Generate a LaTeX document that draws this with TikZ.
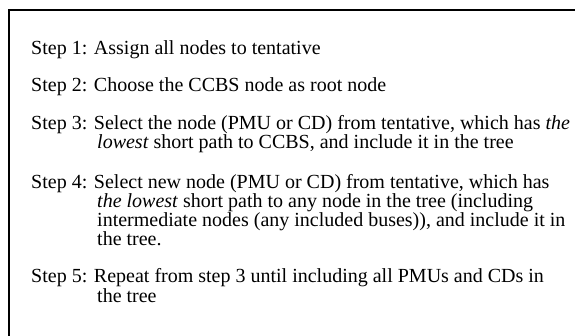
\documentclass[tikz,border=0pt]{standalone}
\usepackage{fontspec}
\setmainfont{Liberation Serif}
\begin{document}
\begin{tikzpicture}[x=1pt,y=-1pt,
  steptext/.style={anchor=base west,inner sep=0pt,font=\fontsize{20}{22}\selectfont}]
\useasboundingbox (0,0) rectangle (575,336);
\coordinate (bl) at (9,337);
\coordinate (tl) at (9,10);
\coordinate (tr) at (576,10);
\draw[line width=1.3pt] (bl) -- (tl) -- (tr);
\node[steptext] (s1) at (31,55) {Step 1: Assign all nodes to tentative};
\node[steptext] (s2) at (31,92) {Step 2: Choose the CCBS node as root node};
\node[steptext] (s3a) at (31,129.5) {Step 3: Select the node (PMU or CD) from tentative, which has \textit{the}};
\node[steptext] (s3b) at (97,148.5) {\textit{lowest} short path to CCBS, and include it in the tree};
\node[steptext] (s4a) at (31,189) {Step 4: Select new node (PMU or CD) from tentative, which has};
\node[steptext] (s4b) at (97,208) {\textit{the lowest} short path to any node in the tree (including};
\node[steptext] (s4c) at (97,227) {intermediate nodes (any included buses)), and include it in};
\node[steptext] (s4d) at (97,246) {the tree.};
\node[steptext] (s5a) at (31,283) {Step 5: Repeat from step 3 until including all PMUs and CDs in};
\node[steptext] (s5b) at (97,302) {the tree};
\end{tikzpicture}
\end{document}
